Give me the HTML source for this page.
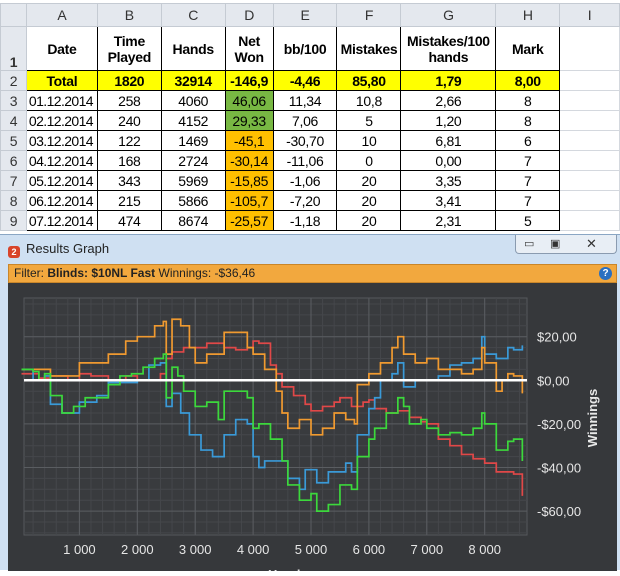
<!DOCTYPE html>
<html><head><meta charset="utf-8">
<style>
*{margin:0;padding:0;box-sizing:border-box}
body{width:620px;height:570px;overflow:hidden;background:#fff;font-family:"Liberation Sans",sans-serif;position:relative}
table{position:absolute;left:0;top:3px;border-collapse:collapse;table-layout:fixed;font-size:14px;letter-spacing:-0.3px}
td{border:1px solid #d4d8de;text-align:center;white-space:nowrap;overflow:hidden;padding:0}
tr.hdr td{background:#e4e8ee;color:#333;height:23px;border-color:#c5cbd3}
td.rn{background:#e4e8ee;color:#333;border-color:#c5cbd3;text-align:center}
tr.r1 td.rn{vertical-align:bottom}
td.b{border:1px solid #000}
tr.r1 td{height:44px;font-weight:bold}
tr.d td{height:20px}
tr.r2 td.b{background:#ffff00;font-weight:bold}
td.l{text-align:left;padding-left:2px;letter-spacing:-0.6px}
td.g{background:#78b843 !important}
td.o{background:#ffc000 !important}
#win{position:absolute;left:0;top:234px;width:620px;height:336px;background:#cfe0f2;border-top:1px solid #8aa6c4}
#title{position:absolute;left:8px;top:6px;font-size:13px;color:#222}
#title span{display:inline-block;width:12px;height:12px;border-radius:3px;background:#d8442a;color:#fff;font-size:9px;font-weight:bold;text-align:center;line-height:12px;margin-right:6px;vertical-align:-2px}
#btns{position:absolute;left:515px;top:0;width:102px;height:19px;border:1px solid #8a9bb0;border-top:none;border-radius:0 0 4px 4px;background:#e8eef5;font-size:11px;color:#333}
#btns div{position:absolute;top:2px}
#filter{position:absolute;left:8px;top:29px;width:609px;height:19px;background:#f2a83e;border:1px solid #c9862a;font-size:12px;line-height:17px;padding-left:5px;color:#222}
#help{position:absolute;right:4px;top:2px;width:13px;height:13px;border-radius:50%;background:#2a6fc0;color:#fff;font-size:10px;font-weight:bold;text-align:center;line-height:13px}
#chart{position:absolute;left:8px;top:48px;width:609px;height:288px;background:#36383b}
</style></head><body>
<table>
<colgroup><col style="width:26px"><col style="width:71px"><col style="width:64px"><col style="width:64px"><col style="width:48px"><col style="width:64px"><col style="width:64px"><col style="width:95px"><col style="width:64px"><col style="width:60px"></colgroup>
<tr class="hdr"><td></td><td>A</td><td>B</td><td>C</td><td>D</td><td>E</td><td>F</td><td>G</td><td>H</td><td>I</td></tr>
<tr class="r1"><td class="rn">1</td><td class="b">Date</td><td class="b">Time<br>Played</td><td class="b">Hands</td><td class="b">Net<br>Won</td><td class="b">bb/100</td><td class="b">Mistakes</td><td class="b">Mistakes/100<br>hands</td><td class="b">Mark</td><td></td></tr>
<tr class="d r2"><td class="rn">2</td><td class="b">Total</td><td class="b">1820</td><td class="b">32914</td><td class="b">-146,9</td><td class="b">-4,46</td><td class="b">85,80</td><td class="b">1,79</td><td class="b">8,00</td><td></td></tr>
<tr class="d"><td class="rn">3</td><td class="b l">01.12.2014</td><td class="b">258</td><td class="b">4060</td><td class="b g">46,06</td><td class="b">11,34</td><td class="b">10,8</td><td class="b">2,66</td><td class="b">8</td><td></td></tr>
<tr class="d"><td class="rn">4</td><td class="b l">02.12.2014</td><td class="b">240</td><td class="b">4152</td><td class="b g">29,33</td><td class="b">7,06</td><td class="b">5</td><td class="b">1,20</td><td class="b">8</td><td></td></tr>
<tr class="d"><td class="rn">5</td><td class="b l">03.12.2014</td><td class="b">122</td><td class="b">1469</td><td class="b o">-45,1</td><td class="b">-30,70</td><td class="b">10</td><td class="b">6,81</td><td class="b">6</td><td></td></tr>
<tr class="d"><td class="rn">6</td><td class="b l">04.12.2014</td><td class="b">168</td><td class="b">2724</td><td class="b o">-30,14</td><td class="b">-11,06</td><td class="b">0</td><td class="b">0,00</td><td class="b">7</td><td></td></tr>
<tr class="d"><td class="rn">7</td><td class="b l">05.12.2014</td><td class="b">343</td><td class="b">5969</td><td class="b o">-15,85</td><td class="b">-1,06</td><td class="b">20</td><td class="b">3,35</td><td class="b">7</td><td></td></tr>
<tr class="d"><td class="rn">8</td><td class="b l">06.12.2014</td><td class="b">215</td><td class="b">5866</td><td class="b o">-105,7</td><td class="b">-7,20</td><td class="b">20</td><td class="b">3,41</td><td class="b">7</td><td></td></tr>
<tr class="d"><td class="rn">9</td><td class="b l">07.12.2014</td><td class="b">474</td><td class="b">8674</td><td class="b o">-25,57</td><td class="b">-1,18</td><td class="b">20</td><td class="b">2,31</td><td class="b">5</td><td></td></tr>
</table>
<div id="win">
 <div id="title"><span>2</span>Results Graph</div>
 <div id="btns">
  <div style="left:8px">▭</div>
  <div style="left:34px">▣</div>
  <div style="left:70px;font-size:13px;top:1px">✕</div>
 </div>
 <div id="filter">Filter: <b>Blinds: $10NL Fast</b> Winnings: -$36,46<div id="help">?</div></div>
 <div id="chart">
  <svg id="svg" width="609" height="288" xmlns="http://www.w3.org/2000/svg"></svg>
 </div>
</div>
<script>
const xTicks=[1000,2000,3000,4000,5000,6000,7000,8000];
const xTickLabels=["1 000","2 000","3 000","4 000","5 000","6 000","7 000","8 000"];
const yTicks=[20,0,-20,-40,-60];
const yTickLabels=["$20,00","$0,00","-$20,00","-$40,00","-$60,00"];
const orangeHands=[0,500,1000,1500,1800,2000,2300,2450,2500,2600,2750,2900,3000,3200,3500,3800,3900,4000,4200,4400,4500,4600,4800,5000,5200,5400,5600,5750,5800,6000,6200,6400,6500,6600,6800,7000,7200,7400,7600,7800,7950,8000,8200,8300,8400,8500,8650];
const orangeValues=[5,2,8,12,18,20,25,27,12,28,25,15,8,12,22,22,15,12,5,-5,-15,-22,-18,-25,-22,-15,-18,-20,-2,3,8,15,20,12,8,10,5,5,3,5,15,8,-5,0,3,2,-6];
const redHands=[0,300,500,800,1000,1200,1500,1800,2000,2200,2400,2500,2600,2800,3000,3200,3500,3700,3900,4000,4100,4300,4400,4500,4700,4900,5000,5200,5400,5500,5700,5900,6000,6100,6300,6500,6700,6900,7000,7200,7400,7600,7800,8000,8200,8400,8500,8650];
const redValues=[3,1,2,0,3,2,0,2,0,0,3,10,13,15,15,17,15,14,15,18,17,7,3,-3,-7,-11,-14,-12,-10,-8,-12,-10,-9,-13,-15,-14,-17,-19,-20,-27,-30,-34,-36,-38,-42,-42,-43,-53];
const blueHands=[0,200,400,500,700,1000,1300,1500,1800,2000,2200,2400,2500,2600,2750,2900,3100,3300,3500,3700,3900,4000,4100,4200,4400,4600,4800,4900,5100,5300,5600,5700,5800,6000,6100,6200,6400,6500,6600,6800,7000,7200,7400,7600,7800,7950,8000,8200,8400,8500,8650];
const blueValues=[5,0,2,-11,-15,-10,-7,-1,-1,0,7,8,-12,-6,-15,-25,-32,-35,-25,-18,-20,-35,-40,-37,-37,-45,-50,-41,-47,-42,-38,-42,-25,-13,-8,0,3,8,-3,0,0,2,7,8,10,20,12,10,15,14,16];
const greenHands=[0,200,300,400,500,700,900,1100,1300,1500,1700,1900,2100,2300,2450,2500,2600,2700,2800,3000,3200,3400,3500,3700,3900,4000,4100,4300,4500,4600,4800,5000,5100,5300,5500,5700,5800,6000,6100,6300,6500,6600,6700,6900,7000,7200,7400,7600,7800,7950,8000,8200,8400,8500,8650];
const greenValues=[5,4,0,3,-7,-15,-12,-8,-8,-2,2,3,6,10,12,-8,6,2,-5,-12,-10,-18,-5,-5,-8,-22,-20,-27,-37,-48,-55,-52,-60,-57,-48,-50,-35,-27,-22,-15,-8,-12,-20,-18,-22,-25,-24,-25,-22,-15,-20,-32,-28,-27,-37];

const OX=8,OY=282;
const x=h=>21.5+h*0.0579-OX;
const y=v=>379.3-v*2.18-OY;
const svg=document.getElementById('svg');
const NS='http://www.w3.org/2000/svg';
function mk(tag,attrs){const e=document.createElementNS(NS,tag);for(const k in attrs)e.setAttribute(k,attrs[k]);svg.appendChild(e);return e;}
const L=24-OX,R=527-OX,T=297-OY,B=534-OY;
const plot=mk('rect',{x:L,y:T,width:R-L,height:B-T,fill:'#393b3e',stroke:'#55585c'});


for(let h=0;h<=8700;h+=200){const xx=x(h);if(xx<L||xx>R)continue;const g=mk('line',{x1:xx,x2:xx,y1:T,y2:B,stroke:'#45474b','stroke-width':1});

}
for(let v=-70;v<=38;v+=5){const yy=y(v);if(yy<T||yy>B)continue;const g=mk('line',{x1:L,x2:R,y1:yy,y2:yy,stroke:'#45474b','stroke-width':1});

}
xTicks.forEach((t,i)=>{const g=mk('line',{x1:x(t),x2:x(t),y1:T,y2:B,stroke:'#5a5d61','stroke-width':1});


const tx=mk('text',{x:x(t),y:548-OY+5,fill:'#e6e6e6','font-size':'13','text-anchor':'middle','font-family':'Liberation Sans, sans-serif'});tx.textContent=xTickLabels[i];

});
yTicks.forEach((t,i)=>{if(t!==0){const g=mk('line',{x1:L,x2:R,y1:y(t),y2:y(t),stroke:'#5a5d61','stroke-width':1});

}
const tx=mk('text',{x:537-OX,y:y(t)+5,fill:'#e6e6e6','font-size':'13','font-family':'Liberation Sans, sans-serif'});tx.textContent=yTickLabels[i];

});
const yt=mk('text',{x:0,y:0,fill:'#e8e8e8','font-size':'13','font-weight':'bold','text-anchor':'middle','transform':`translate(${597-OX},${417-OY}) rotate(-90)`,'font-family':'Liberation Sans, sans-serif'});yt.textContent='Winnings';


const xt=mk('text',{x:x(4600),y:296,fill:'#e8e8e8','font-size':'13','font-weight':'bold','text-anchor':'middle','font-family':'Liberation Sans, sans-serif'});xt.textContent='Hands';


function series(hs,vs,color,name){let d=`M${x(hs[0])},${y(vs[0])}`;for(let i=1;i<hs.length;i++){d+=`H${x(hs[i])}V${y(vs[i])}`;}
const p=mk('path',{d:d,fill:'none',stroke:color,'stroke-width':1.7});

}
series(redHands,redValues,'#e04848','series-red');
series(blueHands,blueValues,'#3a9ad8','series-blue');
series(orangeHands,orangeValues,'#f09a30','series-orange');
series(greenHands,greenValues,'#3cd83c','series-green');
const zl=mk('line',{x1:L,x2:R,y1:y(0),y2:y(0),stroke:'#ffffff','stroke-width':2.5});


</script>
</body></html>
